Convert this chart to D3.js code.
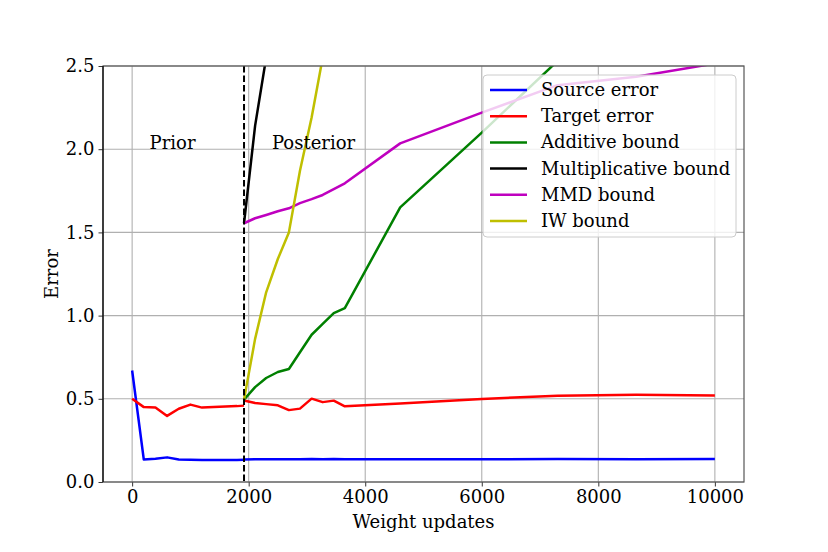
<!DOCTYPE html>
<html>
<head>
<meta charset="utf-8">
<script src="https://cdn.jsdelivr.net/npm/d3@7"></script>
<style>
  body { margin: 0; background: #fff; }
  text { font-family: "DejaVu Serif", serif; fill: #000; }
</style>
</head>
<body>
<div id="chart"></div>
<script>
// Weight update steps before / after the switch
const priorSteps = [0, 200, 400, 600, 800, 1000, 1200, 1400, 1600, 1800, 1920];
const posteriorSteps = [1920, 2110, 2300, 2500, 2690, 2880, 3080, 3270, 3460, 3650, 4600, 6000, 7300, 8650, 10000];
const switchStep = 1920;

// Error values (null = off the top of the chart)
const sourcePrior = [0.67, 0.135, 0.14, 0.148, 0.135, 0.133, 0.132, 0.132, 0.132, 0.132, 0.133];
const targetPrior = [0.5, 0.45, 0.448, 0.397, 0.44, 0.465, 0.447, 0.45, 0.453, 0.456, 0.459];

const sourcePost = [0.135, 0.137, 0.136, 0.137, 0.136, 0.137, 0.138, 0.136, 0.138, 0.137, 0.136, 0.137, 0.138, 0.137, 0.138];
const targetPost = [0.49, 0.475, 0.468, 0.461, 0.432, 0.441, 0.501, 0.48, 0.489, 0.455, 0.472, 0.499, 0.519, 0.524, 0.52];
const additiveBound = [0.495, 0.57, 0.625, 0.661, 0.679, 0.78, 0.885, 0.95, 1.015, 1.045, 1.65, 2.10, 2.53, null, null];
const multBound = [1.555, 2.14, 2.55, null, null, null, null, null, null, null, null, null, null, null, null];
const mmdBound = [1.555, 1.585, 1.605, 1.627, 1.645, 1.676, 1.70, 1.725, 1.76, 1.795, 2.035, 2.22, 2.385, 2.435, 2.515];
const iwBound = [0.495, 0.86, 1.14, 1.34, 1.5, 1.87, 2.19, 2.55, null, null, null, null, null, null, null];

const xTicks = [0, 2000, 4000, 6000, 8000, 10000];
const yTicks = [0, 0.5, 1.0, 1.5, 2.0, 2.5];

const legendNames = ["Source error", "Target error", "Additive bound", "Multiplicative bound", "MMD bound", "IW bound"];
const colors = ["#0000ff", "#ff0000", "#008000", "#000000", "#bf00bf", "#bfbf00"];

const width = 828, height = 552;
const margin = { top: 66, right: 84, bottom: 70, left: 103 };
const innerW = width - margin.left - margin.right;
const innerH = height - margin.top - margin.bottom;
const fs = 18;

const svg = d3.select("#chart").append("svg")
    .attr("width", width)
    .attr("height", height);

const g = svg.append("g")
    .attr("transform", `translate(${margin.left},${margin.top})`);

const x = d3.scaleLinear().domain([-500, 10500]).range([0, innerW]);
const y = d3.scaleLinear().domain([0, 2.5]).range([innerH, 0]);

g.append("clipPath").attr("id", "clip")
    .append("rect").attr("width", innerW).attr("height", innerH);

// Grid
g.append("g").selectAll("line").data(xTicks).enter().append("line")
    .attr("x1", d => x(d)).attr("x2", d => x(d))
    .attr("y1", 0).attr("y2", innerH)
    .attr("stroke", "#b0b0b0").attr("stroke-width", 1.1);
g.append("g").selectAll("line").data(yTicks).enter().append("line")
    .attr("x1", 0).attr("x2", innerW)
    .attr("y1", d => y(d)).attr("y2", d => y(d))
    .attr("stroke", "#b0b0b0").attr("stroke-width", 1.1);

// Lines
const line = d3.line()
    .defined(d => d[1] !== null)
    .x(d => x(d[0]))
    .y(d => y(d[1]));

const series = [
    [priorSteps, sourcePrior, 0],
    [priorSteps, targetPrior, 1],
    [posteriorSteps, sourcePost, 0],
    [posteriorSteps, targetPost, 1],
    [posteriorSteps, additiveBound, 2],
    [posteriorSteps, multBound, 3],
    [posteriorSteps, mmdBound, 4],
    [posteriorSteps, iwBound, 5]
];

const plot = g.append("g").attr("clip-path", "url(#clip)");
series.forEach(([steps, vals, ci]) => {
    plot.append("path")
        .datum(steps.map((s, i) => [s, vals[i]]))
        .attr("fill", "none")
        .attr("stroke", colors[ci])
        .attr("stroke-width", 2.5)
        .attr("stroke-linejoin", "round")
        .attr("d", line);
});

// Switch marker
g.append("line")
    .attr("x1", x(switchStep)).attr("x2", x(switchStep))
    .attr("y1", 0).attr("y2", innerH)
    .attr("stroke", "#000").attr("stroke-width", 2)
    .attr("stroke-dasharray", "6.5,3");

// Phase labels
g.append("text").attr("x", x(300)).attr("y", y(2.0))
    .attr("font-size", fs).text("Prior");
g.append("text").attr("x", x(2400)).attr("y", y(2.0))
    .attr("font-size", fs).text("Posterior");

// Axes
const xAxis = g.append("g")
    .attr("transform", `translate(0,${innerH})`)
    .call(d3.axisBottom(x).tickValues(xTicks).tickFormat(d3.format("d")).tickSize(4.5).tickPadding(4));
const yAxis = g.append("g")
    .call(d3.axisLeft(y).tickValues(yTicks).tickFormat(d3.format(".1f")).tickSize(4.5).tickPadding(4));
[xAxis, yAxis].forEach(a => {
    a.select(".domain").remove();
    a.selectAll("text").attr("font-family", "DejaVu Serif").attr("font-size", fs).attr("fill", "#000");
    a.selectAll("line").attr("stroke", "#333");
});

// Spines
g.append("rect").attr("width", innerW).attr("height", innerH)
    .attr("fill", "none").attr("stroke", "#555").attr("stroke-width", 1.2);
g.append("line").attr("x1", 0).attr("x2", 0).attr("y1", 0).attr("y2", innerH)
    .attr("stroke", "#000").attr("stroke-width", 1.2);

// Axis labels
svg.append("text")
    .attr("x", margin.left + innerW / 2)
    .attr("y", 528)
    .attr("text-anchor", "middle")
    .attr("font-size", fs)
    .text("Weight updates");
svg.append("text")
    .attr("transform", `translate(58,${margin.top + innerH / 2}) rotate(-90)`)
    .attr("text-anchor", "middle")
    .attr("font-size", fs)
    .text("Error");

// Legend
const legend = svg.append("g").attr("transform", "translate(483,75)");
legend.append("rect")
    .attr("width", 253).attr("height", 162)
    .attr("rx", 4)
    .attr("fill", "#fff").attr("fill-opacity", 0.8)
    .attr("stroke", "#ccc");
legendNames.forEach((name, i) => {
    const ly = 15 + i * 26.2;
    legend.append("line")
        .attr("x1", 7).attr("x2", 44)
        .attr("y1", ly).attr("y2", ly)
        .attr("stroke", colors[i]).attr("stroke-width", 2.5);
    legend.append("text")
        .attr("x", 58).attr("y", ly + 6)
        .attr("font-size", fs)
        .text(name);
});
</script>
</body>
</html>
